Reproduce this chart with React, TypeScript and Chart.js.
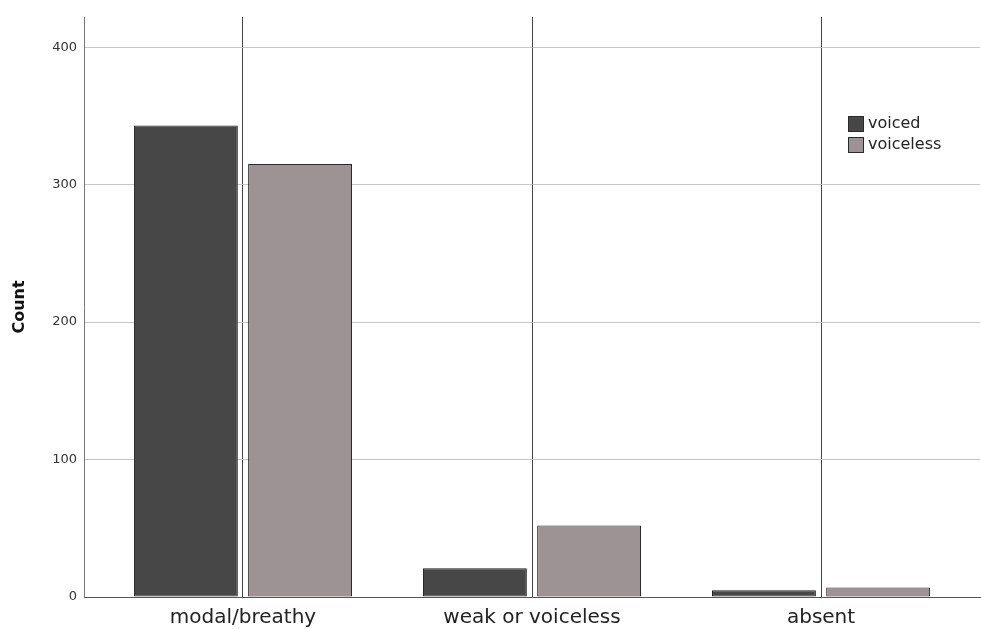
import React, { useEffect, useRef } from 'react';
import { Chart, registerables } from 'chart.js';

Chart.register(...registerables);

const categories = ['modal/breathy', 'weak or voiceless', 'absent'];
const seriesNames = ['voiced', 'voiceless'];
const voiced = [343, 21, 5];
const voiceless = [315, 52, 7];
const yTicks = [0, 100, 200, 300, 400];

const fills = ['#474747', '#9d9395'];

// small legend box drawn inside the plot, like the SPSS output
const legendPlugin = {
  id: 'boxLegend',
  afterDraw(chart: any) {
    const { ctx, chartArea } = chart;
    const x = chartArea.right - 132;
    let y = chartArea.top + 99;
    ctx.save();
    ctx.font = '16px "DejaVu Sans"';
    ctx.textBaseline = 'middle';
    seriesNames.forEach((name, i) => {
      ctx.fillStyle = fills[i];
      ctx.fillRect(x, y, 16, 16);
      ctx.strokeStyle = '#2a2a2a';
      ctx.lineWidth = 1;
      ctx.strokeRect(x + 0.5, y + 0.5, 15, 15);
      ctx.fillStyle = '#222';
      ctx.fillText(name, x + 20, y + 8);
      y += 21;
    });
    ctx.restore();
  },
};

const App = () => {
  const canvasRef = useRef<HTMLCanvasElement | null>(null);

  useEffect(() => {
    const canvas = canvasRef.current;
    if (!canvas) return;
    Chart.defaults.font.family = '"DejaVu Sans", sans-serif';

    const chart = new Chart(canvas, {
      type: 'bar',
      data: {
        datasets: [
          {
            label: seriesNames[0],
            data: voiced.map((v, i) => ({ x: i, y: v })),
            backgroundColor: fills[0],
            borderColor: '#222',
            borderWidth: 1,
            borderSkipped: false,
          },
          {
            label: seriesNames[1],
            data: voiceless.map((v, i) => ({ x: i, y: v })),
            backgroundColor: fills[1],
            borderColor: '#2a2a2a',
            borderWidth: 1,
            borderSkipped: false,
          },
        ],
      },
      options: {
        animation: false,
        responsive: false,
        maintainAspectRatio: false,
        layout: { padding: { top: 17, right: 1, left: 0, bottom: 0 } },
        datasets: {
          bar: { categoryPercentage: 0.79, barPercentage: 0.91 },
        },
        plugins: {
          legend: { display: false },
          tooltip: { enabled: false },
        },
        scales: {
          x: {
            type: 'linear',
            min: -0.55,
            max: 2.55,
            offset: false,
            afterBuildTicks: (scale: any) => {
              scale.ticks = categories.map((_, i) => ({ value: i }));
            },
            afterFit: (scale: any) => {
              scale.height = 32;
            },
            grid: { color: '#444', lineWidth: 1, drawTicks: false, offset: false },
            border: { display: true, color: '#555', width: 1 },
            ticks: {
              autoSkip: false,
              maxRotation: 0,
              padding: 9,
              color: '#222',
              font: { size: 20 },
              callback: (v: any) => categories[v] ?? '',
            },
          },
          y: {
            min: 0,
            max: 422,
            afterBuildTicks: (scale: any) => {
              scale.ticks = yTicks.map((v) => ({ value: v }));
            },
            afterFit: (scale: any) => {
              scale.width = 84;
            },
            grid: { color: '#c6c6c6', lineWidth: 1, drawTicks: false },
            border: { display: true, color: '#777', width: 1 },
            ticks: {
              padding: 7,
              color: '#333',
              font: { size: 13 },
            },
            title: {
              display: true,
              text: 'Count',
              color: '#111',
              font: { size: 16, weight: 'bold' },
              padding: { top: 10, bottom: 0 },
            },
          },
        },
      },
      plugins: [legendPlugin],
    } as any);

    return () => {
      chart.destroy();
    };
  }, []);

  return (
    <div style={{ position: 'fixed', left: 0, top: 0, width: 981, height: 629, background: '#fff' }}>
      <canvas ref={canvasRef} width={981} height={629} style={{ width: 981, height: 629 }} />
    </div>
  );
};

export default App;
